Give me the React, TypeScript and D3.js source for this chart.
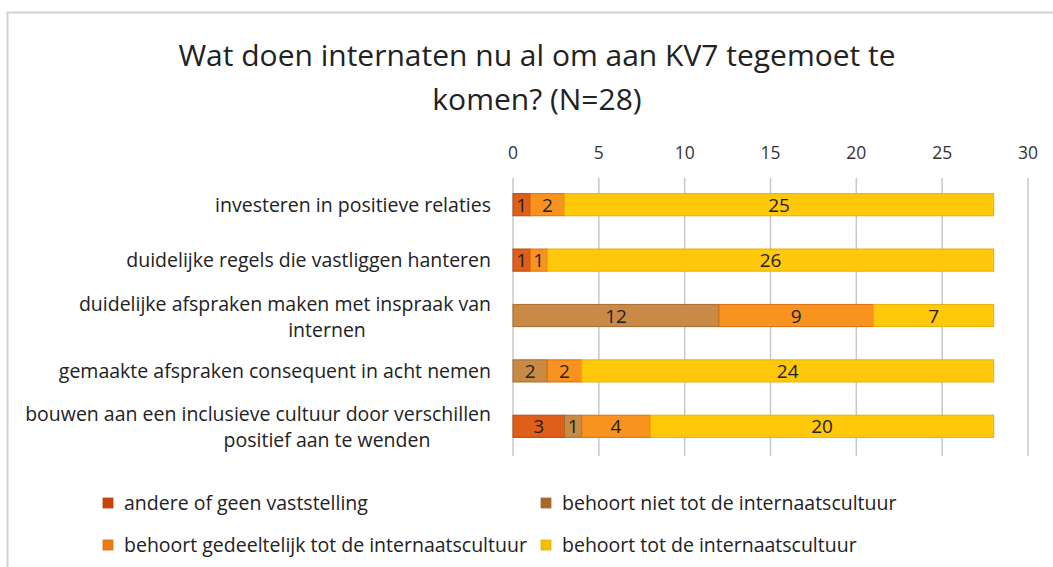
import React from "react";
import * as d3 from "d3";

const categories = [
  "investeren in positieve relaties",
  "duidelijke regels die vastliggen hanteren",
  "duidelijke afspraken maken met inspraak van internen",
  "gemaakte afspraken consequent in acht nemen",
  "bouwen aan een inclusieve cultuur door verschillen positief aan te wenden",
];
const labelLines = [
  ["investeren in positieve relaties"],
  ["duidelijke regels die vastliggen hanteren"],
  ["duidelijke afspraken maken met inspraak van", "internen"],
  ["gemaakte afspraken consequent in acht nemen"],
  ["bouwen aan een inclusieve cultuur door verschillen", "positief aan te wenden"],
];
const seriesNames = [
  "andere of geen vaststelling",
  "behoort niet tot de internaatscultuur",
  "behoort gedeeltelijk tot de internaatscultuur",
  "behoort tot de internaatscultuur",
];
const andere = [1, 1, 0, 0, 3];
const niet = [0, 0, 12, 2, 1];
const gedeeltelijk = [2, 1, 9, 2, 4];
const tot = [25, 26, 7, 24, 20];
const ticks = [0, 5, 10, 15, 20, 25, 30];

const colors = ["#DE5E1A", "#C98A45", "#F7931E", "#FFC80A"];
const strokes = ["#B8460E", "#A86B2E", "#D9700F", "#E6B000"];
const legendColors = ["#C9420A", "#A8662A", "#EE7A14", "#F2C000"];

const FONT = "'Open Sans', sans-serif";

export default function App() {
  const W = 1053, H = 567;
  const x = d3.scaleLinear().domain([0, 30]).range([513, 1028]);
  const y = d3.scaleBand<string>().domain(categories).range([177, 454]).paddingInner(0.6).paddingOuter(0.3);
  const rows = categories.map((c, i) => ({
    cat: c,
    s0: andere[i], s1: niet[i], s2: gedeeltelijk[i], s3: tot[i],
  }));
  const stack = d3.stack<any>().keys(["s0", "s1", "s2", "s3"]);
  const stacked = stack(rows);
  const legendPos = [
    { x: 108, y: 503 }, { x: 546, y: 503 },
    { x: 108, y: 545 }, { x: 546, y: 545 },
  ];
  const LF = 19.5;
  return (
    <div style={{ position: "absolute", left: 0, top: 0 }}>
      <svg width={W} height={H} style={{ display: "block", background: "#fff" }} fontFamily={FONT}>
        <rect x={7.5} y={12.5} width={1060} height={600} fill="#fff" stroke="#d2d2d2" strokeWidth={2} />
        <text x={537} y={66} textAnchor="middle" fontSize={30} fill="#222">Wat doen internaten nu al om aan KV7 tegemoet te</text>
        <text x={537} y={110} textAnchor="middle" fontSize={30} fill="#222">komen? (N=28)</text>
        {ticks.map((t) => (
          <g key={t}>
            <line x1={x(t)} x2={x(t)} y1={178} y2={456} stroke="#c8c8c8" strokeWidth={1.5} />
            <text x={x(t)} y={159} textAnchor="middle" fontSize={17.5} fill="#333">{t}</text>
          </g>
        ))}
        {stacked.map((layer, si) => (
          <g key={si}>
            {layer.map((d, i) => {
              const v = d[1] - d[0];
              if (v <= 0) return null;
              const yy = y(categories[i])!;
              const bw = y.bandwidth();
              return (
                <g key={i}>
                  <rect x={x(d[0])} y={yy} width={x(d[1]) - x(d[0])} height={bw} fill={colors[si]} stroke={strokes[si]} strokeWidth={1} />
                  <text x={(x(d[0]) + x(d[1])) / 2} y={yy + bw / 2 + 7} textAnchor="middle" fontSize={19} fill="#222">{v}</text>
                </g>
              );
            })}
          </g>
        ))}
        {labelLines.map((lines, i) => {
          const cy = y(categories[i])! + y.bandwidth() / 2;
          if (lines.length === 1) {
            return <text key={i} x={491} y={cy + 7} textAnchor="end" fontSize={LF} fill="#222">{lines[0]}</text>;
          }
          return (
            <g key={i}>
              <text x={491} y={cy - 5} textAnchor="end" fontSize={LF} fill="#222">{lines[0]}</text>
              <text x={327} y={cy + 21} textAnchor="middle" fontSize={LF} fill="#222">{lines[1]}</text>
            </g>
          );
        })}
        {seriesNames.map((n, i) => (
          <g key={n}>
            <rect x={legendPos[i].x - 5} y={legendPos[i].y - 5} width={10} height={10} fill={legendColors[i]} stroke={strokes[i]} strokeWidth={0.8} />
            <text x={legendPos[i].x + 16} y={legendPos[i].y + 7} fontSize={LF} fill="#222">{n}</text>
          </g>
        ))}
      </svg>
    </div>
  );
}
